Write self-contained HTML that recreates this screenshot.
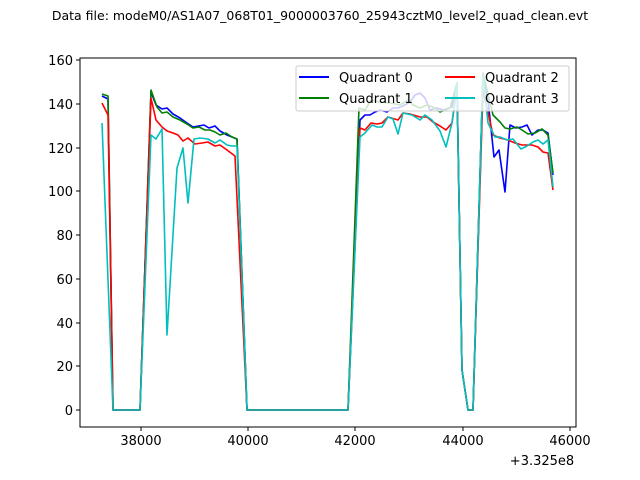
<!DOCTYPE html>
<html><head><meta charset="utf-8"><style>
html,body{margin:0;padding:0;background:#fff;}
svg{display:block;font-family:"DejaVu Sans","Liberation Sans",sans-serif;}
</style></head><body>
<svg width="640" height="480" viewBox="0 0 640 480" xmlns="http://www.w3.org/2000/svg">
<rect width="640" height="480" fill="#fff"/>
<text x="320" y="20" font-size="12.5" text-anchor="middle">Data file: modeM0/AS1A07_068T01_9000003760_25943cztM0_level2_quad_clean.evt</text>
<g fill="none" stroke-width="1.6" stroke-linejoin="round">
<polyline stroke="#0000ff" points="102,96 108,99 113,410 140,410 151,92 156,105 162,109 167,108 173,114 180,118 187,123 193,127 204,125 209,128 215,126 220,131 227,135 232,137 237,139 247,410 348,410 360,120 365,115 370,115 375,112 380,110 387,112 393,108 398,108 403,106 410,102 415,95 420,93 425,98 430,110 437,108 443,110 452,107 457,83 462,370 468,410 473,410 483,75 488,100 494,157 499,150 505,192 510,125 516,128 522,127 527,125 532,135 538,130 543,130 548,133 553,175"/>
<polyline stroke="#008000" points="102,94 108,96 113,410 140,410 151,90 157,107 162,113 167,112 173,117 180,120 187,124 193,128 199,127 205,130 210,130 215,132 220,135 226,133 232,137 237,139 247,410 348,410 359,108 365,110 371,100 380,102 390,103 400,105 408,100 413,105 420,108 427,105 433,107 440,112 450,108 457,83 462,370 468,410 473,410 483,73 493,115 500,122 505,128 510,129 517,127 522,130 528,134 535,133 542,129 548,135 553,173"/>
<polyline stroke="#ff0000" points="102,103 108,115 113,410 140,410 151,98 156,120 162,127 167,131 173,133 178,135 183,141 188,138 195,144 202,143 208,142 215,146 220,145 227,150 235,156 247,410 348,410 360,128 365,130 371,123 377,124 382,123 388,117 398,120 403,113 410,114 420,117 427,117 433,122 440,126 446,130 452,123 457,87 462,370 468,410 473,410 483,90 493,135 500,138 508,140 515,143 522,145 532,145 538,147 543,152 548,153 553,190"/>
<polyline stroke="#00bfbf" points="102,123 113,410 140,410 151,135 156,139 162,129 167,335 177,168 183,148 188,203 194,139 200,138 208,139 215,143 220,140 227,145 232,146 237,146 247,410 348,410 360,137 365,133 372,125 377,127 382,127 388,117 393,119 398,134 403,113 412,115 420,120 425,115 432,120 440,131 446,147 452,123 457,83 462,370 468,410 473,410 483,75 488,123 495,137 500,137 507,140 513,139 521,149 527,146 533,142 538,140 543,144 548,140 553,187"/>
</g>
<rect x="80" y="58" width="496" height="369" fill="none" stroke="#000" stroke-width="1"/>
<g stroke="#000" stroke-width="1">
<line x1="141" y1="427" x2="141" y2="431"/><line x1="248" y1="427" x2="248" y2="431"/><line x1="355" y1="427" x2="355" y2="431"/><line x1="463" y1="427" x2="463" y2="431"/><line x1="570" y1="427" x2="570" y2="431"/>
<line x1="76" y1="410" x2="80" y2="410"/><line x1="76" y1="366" x2="80" y2="366"/><line x1="76" y1="323" x2="80" y2="323"/><line x1="76" y1="279" x2="80" y2="279"/><line x1="76" y1="235" x2="80" y2="235"/><line x1="76" y1="191" x2="80" y2="191"/><line x1="76" y1="148" x2="80" y2="148"/><line x1="76" y1="104" x2="80" y2="104"/><line x1="76" y1="60" x2="80" y2="60"/>
</g>
<g font-size="13" text-anchor="middle">
<text x="141" y="445">38000</text><text x="248" y="445">40000</text><text x="355" y="445">42000</text><text x="463" y="445">44000</text><text x="570" y="445">46000</text>
<text x="542" y="465">+3.325e8</text>
</g>
<g font-size="13" text-anchor="end">
<text x="73" y="415">0</text><text x="73" y="371">20</text><text x="73" y="328">40</text><text x="73" y="284">60</text><text x="73" y="240">80</text><text x="73" y="196">100</text><text x="73" y="153">120</text><text x="73" y="109">140</text><text x="73" y="65">160</text>
</g>
<rect x="296" y="66" width="273" height="45" rx="2" fill="#fff" fill-opacity="0.8" stroke="#ccc" stroke-width="1"/>
<g stroke-width="2">
<line x1="299" y1="77" x2="329" y2="77" stroke="#0000ff"/>
<line x1="299" y1="98" x2="329" y2="98" stroke="#008000"/>
<line x1="445" y1="77" x2="475" y2="77" stroke="#ff0000"/>
<line x1="445" y1="98" x2="475" y2="98" stroke="#00bfbf"/>
</g>
<g font-size="13">
<text x="339" y="82">Quadrant 0</text><text x="339" y="103">Quadrant 1</text>
<text x="485" y="82">Quadrant 2</text><text x="485" y="103">Quadrant 3</text>
</g>
</svg>
</body></html>
